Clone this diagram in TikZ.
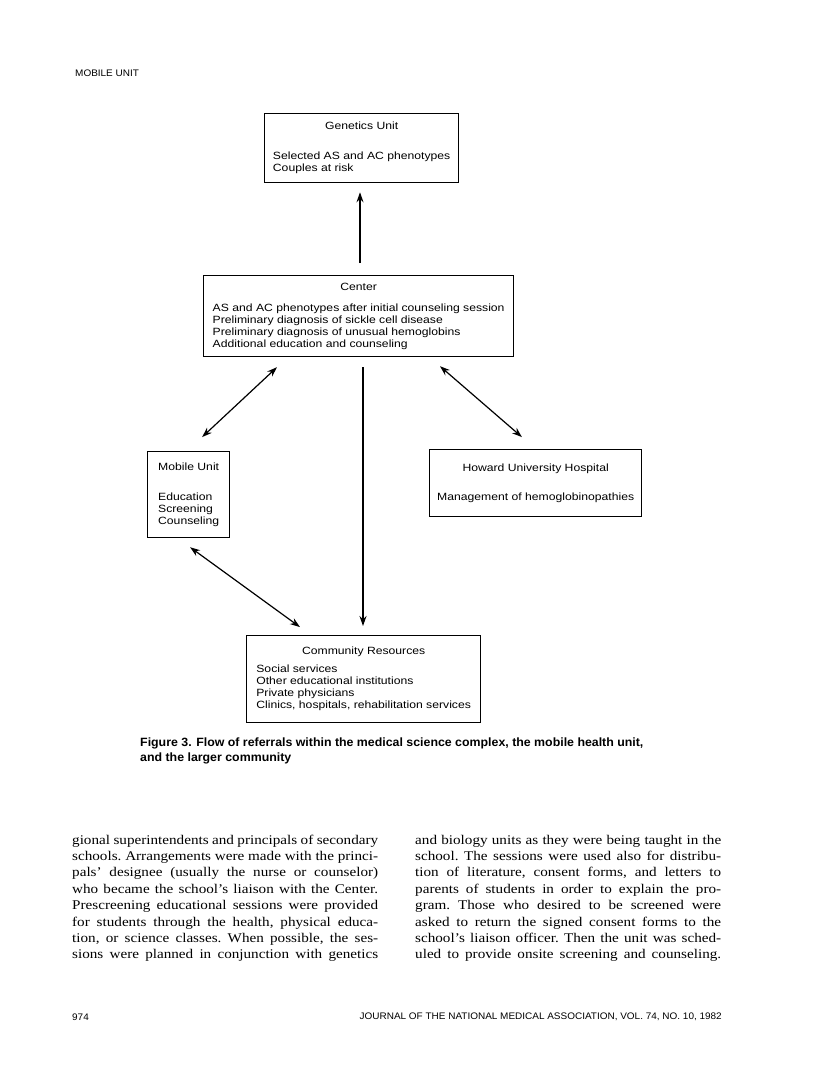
\documentclass[tikz,border=0pt]{standalone}
\usepackage{fontspec}
\setmainfont{Liberation Sans}
\newfontfamily\diagfont[FakeStretch=1.16]{Liberation Sans}
\newfontfamily\bodyserif[FakeStretch=1.14]{Liberation Serif}
\newfontfamily\pagefont[FakeStretch=1.05]{Liberation Sans}
\newfontfamily\capfont[FakeStretch=1.03]{Liberation Sans}
\usetikzlibrary{arrows.meta, positioning}

\newlength{\colw}
\setlength{\colw}{306pt}
\newcommand{\bodyline}[1]{\hbox to \colw{\strut #1}}

\begin{document}
\begin{tikzpicture}[x=1pt, y=-1pt,
    unit/.style={draw, line width=1.3pt, anchor=north west, inner sep=0pt,
                 font=\diagfont\fontsize{10.5}{12}\selectfont},
    arr/.style={-{Stealth[length=10pt, width=7pt]}, line width=1.2pt},
    darr/.style={{Stealth[length=10pt, width=7pt]}-{Stealth[length=10pt, width=7pt]}, line width=1.2pt},
    pagetext/.style={inner sep=0pt, font=\pagefont\fontsize{9.5}{11}\selectfont},
    coltext/.style={anchor=north west, inner sep=0pt,
                    font=\bodyserif\fontsize{13.3}{16.4}\selectfont\frenchspacing}]

    \path[fill=white, use as bounding box] (0,0) rectangle (816,1083);

    \node[pagetext, anchor=west] (runhead) at (75,73) {MOBILE UNIT};

    % the five boxes
    \node[unit, minimum width=194pt, minimum height=69pt] (genetics) at (264,113)
        {\begin{tabular}{@{}l@{}}\multicolumn{1}{@{}c@{}}{Genetics Unit}\\[18pt]
         Selected AS and AC phenotypes\\ Couples at risk\end{tabular}};
    \node[unit, minimum width=310pt, minimum height=81pt] (centerbox) at (203,275)
        {\begin{tabular}{@{}l@{}}\multicolumn{1}{@{}c@{}}{Center}\\[9pt]
         AS and AC phenotypes after initial counseling session\\
         Preliminary diagnosis of sickle cell disease\\
         Preliminary diagnosis of unusual hemoglobins\\
         Additional education and counseling\end{tabular}};
    \node[unit, minimum width=82pt, minimum height=86pt] (mobile) at (147,451)
        {\begin{tabular}{@{}l@{}}\multicolumn{1}{@{}c@{}}{Mobile Unit}\\[18pt]
         Education\\ Screening\\ Counseling\end{tabular}};
    \node[unit, minimum width=212pt, minimum height=67pt] (howard) at (429,449)
        {\begin{tabular}{@{}c@{}}Howard University Hospital\\[17pt]
         Management of hemoglobinopathies\end{tabular}};
    \node[unit, minimum width=234pt, minimum height=87pt] (community) at (246,635)
        {\begin{tabular}{@{}l@{}}\multicolumn{1}{@{}c@{}}{Community Resources}\\[6pt]
         Social services\\ Other educational institutions\\ Private physicians\\
         Clinics, hospitals, rehabilitation services\end{tabular}};

    % referral arrows
    \draw[arr, shorten <=12pt, shorten >=9pt]
        ([xshift=157pt]centerbox.north west) -- ([xshift=96pt]genetics.south west);
    \draw[darr, shorten <=14.5pt, shorten >=20.4pt]
        ([xshift=84.6pt]centerbox.south west) -- ([xshift=40.2pt]mobile.north west);
    \draw[darr, shorten <=13.6pt, shorten >=18.2pt]
        ([xshift=226.7pt]centerbox.south west) -- ([xshift=106.7pt]howard.north west);
    \draw[arr, shorten <=10pt, shorten >=9pt]
        ([xshift=160pt]centerbox.south west) -- ([xshift=117pt]community.north west);
    \draw[darr, shorten <=15.2pt, shorten >=13.5pt]
        ([xshift=30.8pt]mobile.south west) -- ([xshift=64.9pt]community.north west);

    \node[anchor=north west, inner sep=0pt, align=left,
          font=\capfont\bfseries\fontsize{12}{15}\selectfont] (caption) at (140,738)
        {Figure 3. Flow of referrals within the medical science complex, the mobile health unit,\\
         and the larger community};

    % body text, two columns
    \node[coltext] (leftcol) at (72,832.5) {\vbox{%
        \bodyline{gional superintendents and principals of secondary}
        \bodyline{schools. Arrangements were made with the princi-}
        \bodyline{pals’ designee (usually the nurse or counselor)}
        \bodyline{who became the school’s liaison with the Center.}
        \bodyline{Prescreening educational sessions were provided}
        \bodyline{for students through the health, physical educa-}
        \bodyline{tion, or science classes. When possible, the ses-}
        \bodyline{sions were planned in conjunction with genetics}}};
    \node[coltext] (rightcol) at (415,832.5) {\vbox{%
        \bodyline{and biology units as they were being taught in the}
        \bodyline{school. The sessions were used also for distribu-}
        \bodyline{tion of literature, consent forms, and letters to}
        \bodyline{parents of students in order to explain the pro-}
        \bodyline{gram. Those who desired to be screened were}
        \bodyline{asked to return the signed consent forms to the}
        \bodyline{school’s liaison officer. Then the unit was sched-}
        \bodyline{uled to provide onsite screening and counseling.}}};

    \node[pagetext, anchor=west] (pagenum) at (72,1017) {974};
    \node[pagetext, anchor=east] (journal) at (722,1017)
        {JOURNAL OF THE NATIONAL MEDICAL ASSOCIATION, VOL. 74, NO. 10, 1982};
\end{tikzpicture}
\end{document}
